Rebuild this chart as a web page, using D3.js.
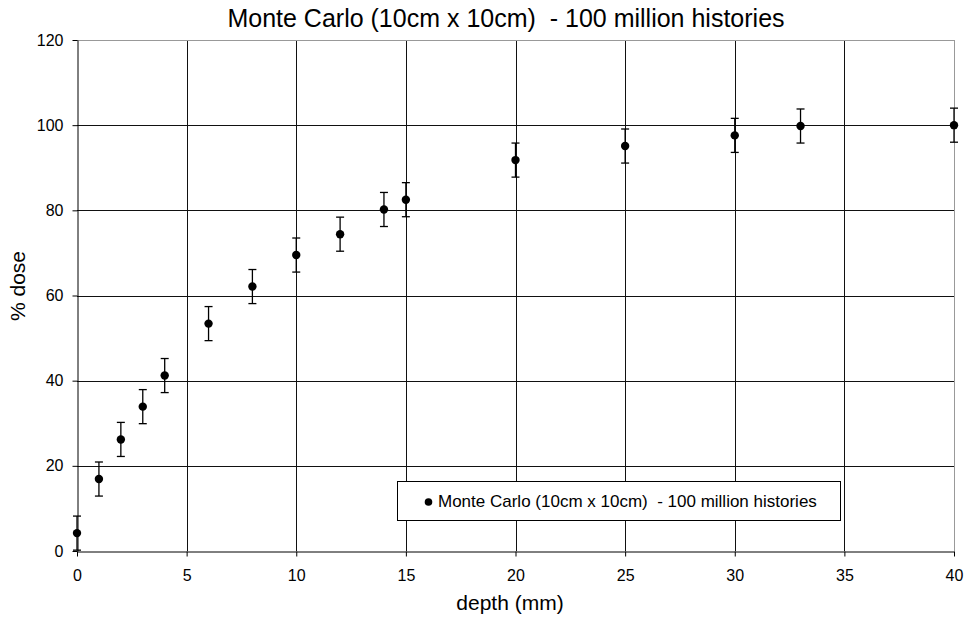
<!DOCTYPE html>
<html><head><meta charset="utf-8">
<script src="https://cdn.jsdelivr.net/npm/d3@7"></script>
<style>body{margin:0;background:#fff}svg{display:block;font-family:"Liberation Sans",Arial,sans-serif}text{white-space:pre}</style>
</head><body><svg id="c" width="966" height="617"></svg>
<script>
const depth = [0,1,2,3,4,6,8,10,12,14,15,20,25,30,33,40];
const dose  = [4.2,16.9,26.2,33.9,41.2,53.4,62.1,69.5,74.4,80.2,82.5,91.8,95.1,97.6,99.8,100.0];
const err   = [4,4,4,4,4,4,4,4,4,4,4,4,4,4,4,4];
const xTicks = [0,5,10,15,20,25,30,35,40];
const yTicks = [0,20,40,60,80,100,120];
const title = "Monte Carlo (10cm x 10cm)  - 100 million histories";
const seriesName = "Monte Carlo (10cm x 10cm)  - 100 million histories";

const svg = d3.select("#c");
const m = {l:77, r:12, t:40, b:66};
const W = 966, H = 617;
const x = d3.scaleLinear().domain([0,40]).range([m.l, W-m.r]);
const y = d3.scaleLinear().domain([0,120]).range([H-m.b, m.t]);

// grid
svg.append("g").selectAll("line").data(yTicks.filter(d=>d>0 && d<120)).join("line")
  .attr("x1",x(0)).attr("x2",x(40)).attr("y1",d=>Math.round(y(d))+0.5).attr("y2",d=>Math.round(y(d))+0.5)
  .attr("stroke","#111").attr("stroke-width",1);
svg.append("g").selectAll("line").data(xTicks.filter(d=>d>0 && d<40)).join("line")
  .attr("y1",y(0)).attr("y2",y(120)).attr("x1",d=>Math.round(x(d))+0.5).attr("x2",d=>Math.round(x(d))+0.5)
  .attr("stroke","#111").attr("stroke-width",1);
svg.append("line").attr("x1",x(0)).attr("x2",x(40)).attr("y1",Math.round(y(120))+0.5).attr("y2",Math.round(y(120))+0.5).attr("stroke","#999");
svg.append("line").attr("x1",Math.round(x(40))+0.5).attr("x2",Math.round(x(40))+0.5).attr("y1",y(0)).attr("y2",y(120)).attr("stroke","#999");

// axes
const xa = svg.append("g").attr("transform",`translate(0,${Math.round(y(0))+0.5})`)
  .call(d3.axisBottom(x).tickValues(xTicks).tickSize(5).tickPadding(13).tickSizeOuter(0));
const ya = svg.append("g").attr("transform",`translate(${Math.round(x(0))+0.5},0)`)
  .call(d3.axisLeft(y).tickValues(yTicks).tickSize(5).tickPadding(9).tickSizeOuter(0));
[xa,ya].forEach(a=>{
  a.selectAll("path,line").attr("stroke","#000");
  a.selectAll("text").attr("font-size",16).attr("fill","#000").attr("font-family",'"Liberation Sans",Arial,sans-serif');
});

// error bars
const eb = svg.append("g").attr("stroke","#000").attr("stroke-width",1.3);
depth.forEach((d,i)=>{
  const cx = x(d), y1 = y(dose[i]+err[i]), y2 = y(Math.max(0,dose[i]-err[i]));
  eb.append("line").attr("x1",cx).attr("x2",cx).attr("y1",y1).attr("y2",y2);
  eb.append("line").attr("x1",cx-4).attr("x2",cx+4).attr("y1",y1).attr("y2",y1);
  eb.append("line").attr("x1",cx-4).attr("x2",cx+4).attr("y1",y2).attr("y2",y2);
});
svg.append("g").selectAll("circle").data(depth).join("circle")
  .attr("cx",d=>x(d)).attr("cy",(d,i)=>y(dose[i])).attr("r",4.2).attr("fill","#000");

// title and labels
svg.append("text").attr("x",506).attr("y",27).attr("text-anchor","middle").attr("font-size",25).text(title);
svg.append("text").attr("x",510).attr("y",610).attr("text-anchor","middle").attr("font-size",21).text("depth (mm)");
svg.append("text").attr("transform","translate(25,286) rotate(-90)").attr("text-anchor","middle").attr("font-size",21).text("% dose");

// legend
const lg = svg.append("g");
lg.append("rect").attr("x",397.5).attr("y",481.5).attr("width",443).attr("height",39).attr("fill","#fff").attr("stroke","#000");
lg.append("circle").attr("cx",428.5).attr("cy",502).attr("r",3.8).attr("fill","#000");
lg.append("text").attr("x",438).attr("y",507).attr("font-size",17).text(seriesName);
</script></body></html>
